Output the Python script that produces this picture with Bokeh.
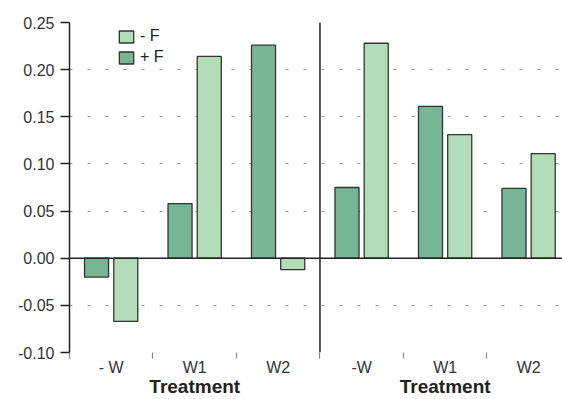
from bokeh.plotting import figure
from bokeh.models import (Range1d, FixedTicker, NumeralTickFormatter, Span, LinearAxis,
                          Legend, LegendItem, ColumnDataSource)
from bokeh.embed import file_html
from bokeh.resources import INLINE

# ---- data ----
groups_left = ["- W", "W1", "W2"]
groups_right = ["-W", "W1", "W2"]
plus_f = [-0.020, 0.058, 0.226, 0.075, 0.161, 0.074]
minus_f = [-0.067, 0.214, -0.012, 0.228, 0.131, 0.111]
y_ticks = [-0.10, -0.05, 0.00, 0.05, 0.10, 0.15, 0.20, 0.25]
axis_title = "Treatment"
legend_labels = ["- F", "+ F"]

LIGHT = "#b3dcb8"
DARK = "#77b694"
EDGE = "#333333"
FONT = "Liberation Sans"

n = len(plus_f)
centers = [i + 0.5 for i in range(n)]
labels = groups_left + groups_right

src_plus = ColumnDataSource(dict(x=[c - 0.176 for c in centers], top=plus_f))
src_minus = ColumnDataSource(dict(x=[c + 0.174 for c in centers], top=minus_f))

p = figure(width=562, height=399, output_backend="svg", toolbar_location=None,
           x_range=Range1d(0, 5.905), y_range=Range1d(-0.10, 0.25))
p.min_border_left = 69
p.min_border_right = 0
p.min_border_top = 22
p.min_border_bottom = 0
p.outline_line_color = None
p.background_fill_color = "white"
p.border_fill_color = "white"

r_plus = p.vbar(x="x", top="top", bottom=0, width=0.288, source=src_plus,
                fill_color=DARK, line_color=EDGE, line_width=1.3)
r_minus = p.vbar(x="x", top="top", bottom=0, width=0.288, source=src_minus,
                 fill_color=LIGHT, line_color=EDGE, line_width=1.3)

# y axis
yax = p.yaxis[0]
yax.ticker = FixedTicker(ticks=y_ticks)
yax.formatter = NumeralTickFormatter(format="0.00")
yax.axis_line_color = "#222222"
yax.axis_line_width = 1.5
yax.major_tick_out = 9
yax.major_tick_in = 0
yax.major_tick_line_color = "#222222"
yax.major_tick_line_width = 1.3
yax.minor_tick_line_color = None
yax.major_label_standoff = 6
yax.major_label_text_font = FONT
yax.major_label_text_font_size = "16px"
yax.major_label_text_color = "#333333"

# x axis (group labels)
xax = p.xaxis[0]
xax.ticker = FixedTicker(ticks=centers, minor_ticks=list(range(n + 1)))
xax.major_label_overrides = {c: l for c, l in zip(centers, labels)}
xax.axis_line_color = None
xax.major_tick_line_color = None
xax.major_tick_out = 0
xax.major_tick_in = 0
xax.minor_tick_out = 6
xax.minor_tick_in = 0
xax.minor_tick_line_color = "#888888"
xax.minor_tick_line_width = 1.2
xax.major_label_standoff = 0
xax.major_label_text_font = FONT
xax.major_label_text_font_size = "16px"
xax.major_label_text_color = "#333333"

# second x axis carrying the two "Treatment" titles
tax = LinearAxis(ticker=FixedTicker(ticks=[1.5, 4.5], minor_ticks=[]))
tax.major_label_overrides = {1.5: axis_title, 4.5: axis_title}
tax.axis_line_color = None
tax.major_tick_line_color = None
tax.minor_tick_line_color = None
tax.major_tick_out = 0
tax.major_tick_in = 0
tax.minor_tick_out = 0
tax.minor_tick_in = 0
tax.major_label_standoff = -3
tax.major_label_text_font = FONT
tax.major_label_text_font_size = "19px"
tax.major_label_text_font_style = "bold"
tax.major_label_text_color = "#222222"
p.add_layout(tax, "below")

# grid
p.xgrid.grid_line_color = None
p.ygrid.ticker = FixedTicker(ticks=y_ticks)
p.ygrid.grid_line_color = "#999999"
p.ygrid.grid_line_dash = "3 15"
p.ygrid.grid_line_width = 1.2

# zero line and panel divider
p.add_layout(Span(location=0, dimension="width", line_color="#222222", line_width=1.5))
p.add_layout(Span(location=3, dimension="height", line_color="#222222", line_width=1.5))

legend = Legend(items=[LegendItem(label=legend_labels[0], renderers=[r_minus]),
                       LegendItem(label=legend_labels[1], renderers=[r_plus])],
                location=(48, 286), orientation="vertical")
legend.padding = 0
legend.margin = 0
legend.spacing = 3
legend.border_line_color = None
legend.background_fill_alpha = 0
legend.glyph_width = 18
legend.glyph_height = 15
legend.label_height = 15
legend.label_standoff = 5
legend.label_text_font = FONT
legend.label_text_font_size = "16px"
legend.label_text_color = "#222222"
p.add_layout(legend)

open("out.html", "w").write(file_html(p, INLINE))
